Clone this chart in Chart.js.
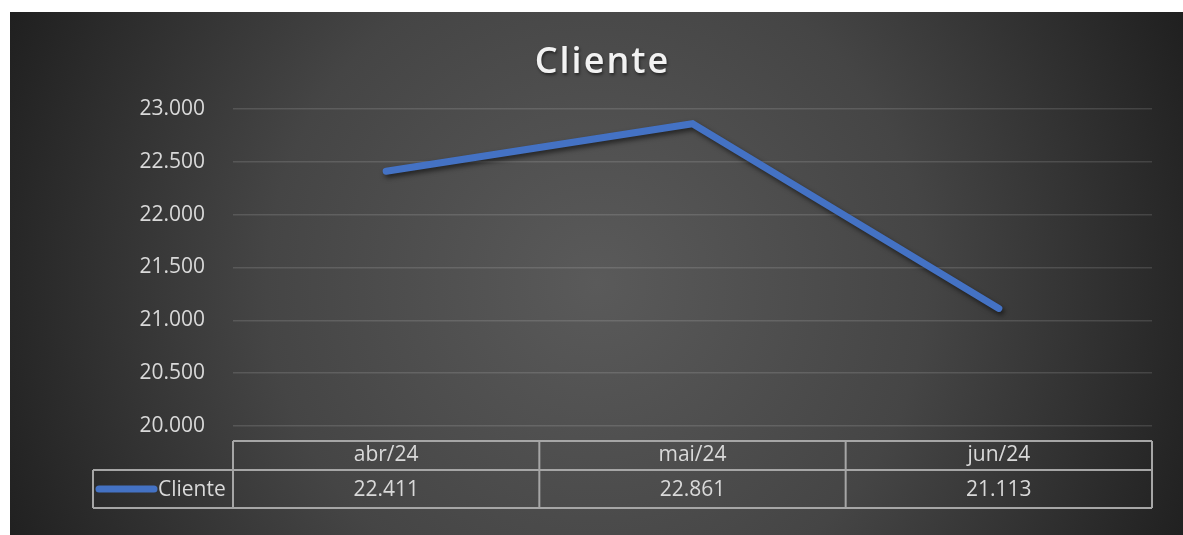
<!DOCTYPE html>
<html lang="pt-BR">
<head>
<meta charset="utf-8">
<title>Cliente</title>
<script src="https://cdn.jsdelivr.net/npm/chart.js@4.4.1/dist/chart.umd.min.js"></script>
<style>
    html, body { margin: 0; padding: 0; background: #fff; }
    #wrap { position: absolute; left: 10px; top: 12px; width: 1173px; height: 523px; }
</style>
</head>
<body>
<div id="wrap"><canvas id="clienteChart"></canvas></div>
<script>
// data
const categories = ['abr/24', 'mai/24', 'jun/24'];
const seriesName = 'Cliente';
const clienteValues = [22411, 22861, 21113];
const yMin = 20000;
const yMax = 23000;
const yStep = 500;

const FONT = '"Open Sans", "Noto Sans", sans-serif';
const TEXT_COLOR = '#d9d9d9';
const LINE_COLOR = '#4472c4';
const TABLE_LINE = '#a6a6a6';

// 23000 -> "23.000"
const fmt = v => String(Math.round(v)).replace(/\B(?=(\d{3})+(?!\d))/g, '.');

// dark radial background, like the office theme
const backgroundPlugin = {
    id: 'bg',
    beforeDraw(chart) {
        const { ctx, width, height } = chart;
        const g = ctx.createRadialGradient(width / 2, height / 2 + 10, 0, width / 2, height / 2 + 10, 660);
        g.addColorStop(0, '#5a5a5a');
        g.addColorStop(0.5, '#454545');
        g.addColorStop(1, '#1e1e1e');
        ctx.save();
        ctx.fillStyle = g;
        ctx.fillRect(0, 0, width, height);
        ctx.restore();
    }
};

// soft shadow under the line
const shadowPlugin = {
    id: 'lineShadow',
    beforeDatasetsDraw(chart) {
        const ctx = chart.ctx;
        ctx.save();
        ctx.shadowColor = 'rgba(0,0,0,0.55)';
        ctx.shadowBlur = 5;
        ctx.shadowOffsetX = 2;
        ctx.shadowOffsetY = 3;
    },
    afterDatasetsDraw(chart) {
        chart.ctx.restore();
    }
};

// title with a bit of letter spacing
const titlePlugin = {
    id: 'spacedTitle',
    afterDraw(chart) {
        const ctx = chart.ctx;
        ctx.save();
        ctx.font = '600 36px ' + FONT;
        ctx.letterSpacing = '2px';
        ctx.textAlign = 'center';
        ctx.textBaseline = 'alphabetic';
        ctx.shadowColor = 'rgba(0,0,0,0.5)';
        ctx.shadowBlur = 3;
        ctx.shadowOffsetX = 1;
        ctx.shadowOffsetY = 2;
        ctx.fillStyle = '#f2f2f2';
        ctx.fillText(seriesName, chart.width / 2 + 6, 61);
        ctx.restore();
    }
};

// data table under the plot, columns taken from the x scale
const tablePlugin = {
    id: 'dataTable',
    afterDraw(chart) {
        const ctx = chart.ctx;
        const x = chart.scales.x;
        const area = chart.chartArea;
        const colW = (area.right - area.left) / categories.length;
        const top = area.bottom + 15;
        const mid = top + 29;
        const bot = mid + 38;
        const legendLeft = 83;

        ctx.save();
        ctx.strokeStyle = TABLE_LINE;
        ctx.lineWidth = 2;
        ctx.beginPath();
        ctx.moveTo(area.left, top); ctx.lineTo(area.right, top);
        ctx.moveTo(legendLeft, mid); ctx.lineTo(area.right, mid);
        ctx.moveTo(legendLeft, bot); ctx.lineTo(area.right, bot);
        ctx.moveTo(legendLeft, mid); ctx.lineTo(legendLeft, bot);
        for (let i = 0; i <= categories.length; i++) {
            const xx = area.left + i * colW;
            ctx.moveTo(xx, top); ctx.lineTo(xx, bot);
        }
        ctx.stroke();

        ctx.fillStyle = TEXT_COLOR;
        ctx.font = '21px ' + FONT;
        ctx.textAlign = 'center';
        ctx.textBaseline = 'middle';
        categories.forEach((c, i) => {
            const cx = x.getPixelForValue(i);
            ctx.fillText(c, cx, (top + mid) / 2);
            ctx.fillText(fmt(clienteValues[i]), cx, (mid + bot) / 2 + 1);
        });

        // legend key
        const ly = (mid + bot) / 2;
        ctx.strokeStyle = LINE_COLOR;
        ctx.lineWidth = 7;
        ctx.lineCap = 'round';
        ctx.beginPath();
        ctx.moveTo(legendLeft + 6, ly);
        ctx.lineTo(legendLeft + 61, ly);
        ctx.stroke();
        ctx.textAlign = 'left';
        ctx.fillText(seriesName, legendLeft + 65, ly + 1);
        ctx.restore();
    }
};

const ctx = document.getElementById('clienteChart').getContext('2d');

new Chart(ctx, {
    type: 'line',
    data: {
        labels: categories,
        datasets: [{
            label: seriesName,
            data: clienteValues,
            borderColor: LINE_COLOR,
            borderWidth: 7,
            borderCapStyle: 'round',
            borderJoinStyle: 'miter',
            pointRadius: 0,
            tension: 0,
            fill: false
        }]
    },
    options: {
        responsive: true,
        maintainAspectRatio: false,
        animation: false,
        layout: { padding: { top: 97, bottom: 101, left: 0, right: 31 } },
        plugins: {
            legend: { display: false },
            title: { display: false },
            tooltip: { enabled: false }
        },
        scales: {
            x: {
                offset: true,
                grid: { display: false },
                border: { display: false },
                ticks: { display: false }
            },
            y: {
                min: yMin,
                max: yMax,
                afterFit(scale) { scale.width = 223; },
                grid: { color: 'rgba(255,255,255,0.13)', lineWidth: 1.5, drawTicks: false },
                border: { display: false },
                ticks: {
                    stepSize: yStep,
                    padding: 28,
                    color: TEXT_COLOR,
                    font: { family: FONT, size: 21 },
                    callback: v => fmt(v)
                }
            }
        }
    },
    plugins: [backgroundPlugin, shadowPlugin, titlePlugin, tablePlugin]
});
</script>
</body>
</html>
